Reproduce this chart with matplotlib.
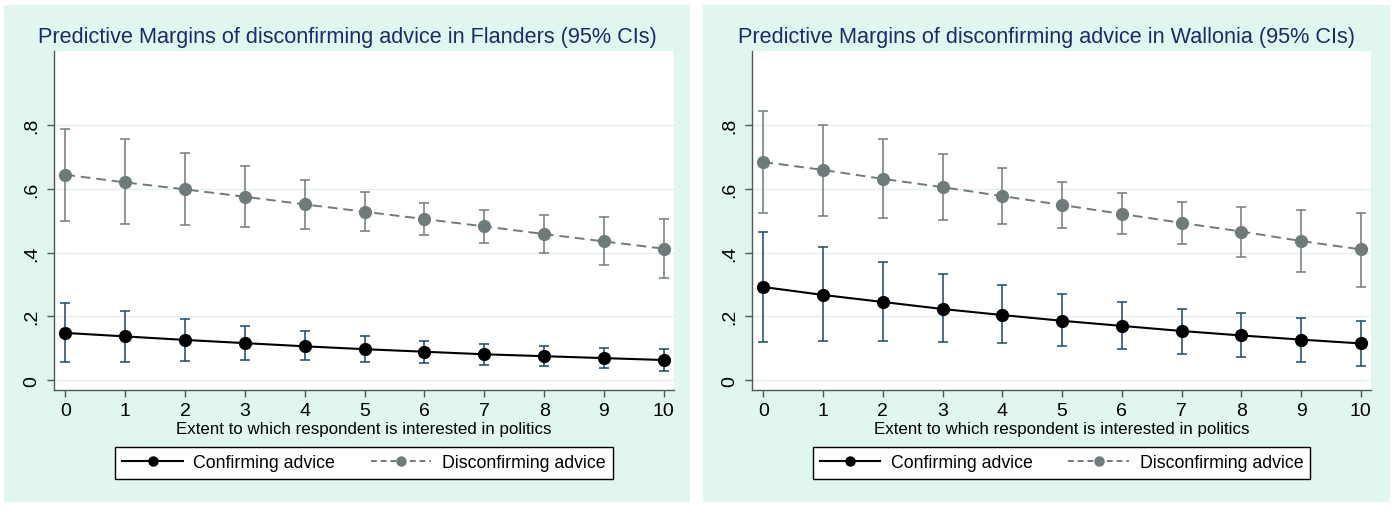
"""Predictive margins of disconfirming advice, Flanders vs Wallonia (Stata-style)."""

import matplotlib
matplotlib.use("Agg")
import matplotlib.pyplot as plt
from matplotlib.lines import Line2D
from matplotlib.patches import Rectangle

plt.rcParams["font.family"] = ["Liberation Sans", "DejaVu Sans"]

INTEREST = list(range(11))
X_LABEL = "Extent to which respondent is interested in politics"
Y_TICKS = [0, 0.2, 0.4, 0.6, 0.8]
Y_TICK_LABELS = ["0", ".2", ".4", ".6", ".8"]

# Flanders
FL_CONF = [0.148, 0.137, 0.126, 0.116, 0.106, 0.097, 0.089, 0.081, 0.075, 0.069, 0.063]
FL_CONF_HI = [0.243, 0.218, 0.193, 0.170, 0.153, 0.137, 0.123, 0.113, 0.106, 0.100, 0.097]
FL_CONF_LO = [0.056, 0.057, 0.060, 0.062, 0.062, 0.058, 0.054, 0.048, 0.043, 0.037, 0.030]
FL_DIS = [0.644, 0.620, 0.598, 0.575, 0.551, 0.528, 0.505, 0.482, 0.458, 0.435, 0.412]
FL_DIS_HI = [0.788, 0.755, 0.713, 0.670, 0.628, 0.590, 0.556, 0.532, 0.518, 0.510, 0.505]
FL_DIS_LO = [0.500, 0.490, 0.487, 0.480, 0.475, 0.467, 0.455, 0.430, 0.400, 0.360, 0.320]

# Wallonia
WA_CONF = [0.292, 0.267, 0.245, 0.223, 0.204, 0.186, 0.170, 0.154, 0.140, 0.127, 0.115]
WA_CONF_HI = [0.463, 0.418, 0.371, 0.332, 0.299, 0.270, 0.245, 0.223, 0.209, 0.196, 0.185]
WA_CONF_LO = [0.121, 0.123, 0.123, 0.119, 0.115, 0.106, 0.097, 0.083, 0.071, 0.056, 0.044]
WA_DIS = [0.684, 0.659, 0.631, 0.605, 0.577, 0.549, 0.521, 0.493, 0.466, 0.436, 0.410]
WA_DIS_HI = [0.843, 0.801, 0.755, 0.710, 0.664, 0.621, 0.586, 0.560, 0.543, 0.533, 0.525]
WA_DIS_LO = [0.524, 0.516, 0.507, 0.501, 0.491, 0.478, 0.459, 0.428, 0.385, 0.339, 0.291]

PANELS = [
    ("Flanders", FL_CONF, FL_CONF_LO, FL_CONF_HI, FL_DIS, FL_DIS_LO, FL_DIS_HI),
    ("Wallonia", WA_CONF, WA_CONF_LO, WA_CONF_HI, WA_DIS, WA_DIS_LO, WA_DIS_HI),
]

BG = "#e0f6ef"
NAVY = "#1a476f"
GREY = "#6f7a7a"
TITLE_C = "#1c2a6b"
AXIS_C = "#4a5a5a"

W, H = 1394, 510
fig = plt.figure(figsize=(W / 100, H / 100), dpi=100)
fig.patch.set_facecolor("white")

panel_px = [(4, 690), (703, 1390)]
axes_px = [(54, 674), (752, 1371)]

# panel backgrounds (pixel boxes -> figure fraction)
for x0, x1 in panel_px:
    fig.patches.append(Rectangle((x0 / W, 1 - 503 / H), (x1 - x0) / W, (503 - 6) / H,
                                 transform=fig.transFigure, facecolor=BG,
                                 edgecolor="none", zorder=-10))

for (region, conf, clo, chi, dis, dlo, dhi), (px0, px1), (bx0, bx1) in zip(PANELS, axes_px, panel_px):
    ax = fig.add_axes([px0 / W, 1 - 391 / H, (px1 - px0) / W, (391 - 52) / H])
    ax.set_facecolor("white")

    ax.errorbar(INTEREST, dis, yerr=[[d - l for d, l in zip(dis, dlo)],
                                     [h - d for d, h in zip(dis, dhi)]],
                fmt="none", ecolor=GREY, elinewidth=1.1, capsize=3.3, capthick=1.1, zorder=2)
    ax.plot(INTEREST, dis, color=GREY, ls=(0, (5, 3)), lw=1.4, marker="o", ms=8.5,
            mfc=GREY, mec=GREY, zorder=3)
    ax.errorbar(INTEREST, conf, yerr=[[c - l for c, l in zip(conf, clo)],
                                      [h - c for c, h in zip(conf, chi)]],
                fmt="none", ecolor=NAVY, elinewidth=1.1, capsize=3.3, capthick=1.1, zorder=4)
    ax.plot(INTEREST, conf, color="black", lw=1.5, marker="o", ms=8.5, zorder=5)

    ax.set_xlim(-0.19, 10.17)
    ax.set_ylim(-0.031, 1.032)
    ax.set_xticks(INTEREST)
    ax.set_yticks(Y_TICKS, Y_TICK_LABELS, rotation=90, va="center")
    ax.tick_params(axis="both", colors=AXIS_C, labelcolor="black", labelsize=14,
                   length=5, width=1, direction="out")
    ax.tick_params(axis="y", pad=5)
    ax.tick_params(axis="x", pad=4)
    ax.grid(axis="y", color="#e6efee", lw=1)
    ax.set_axisbelow(True)
    for side in ("top", "right"):
        ax.spines[side].set_visible(False)
    for side in ("left", "bottom"):
        ax.spines[side].set_color(AXIS_C)
        ax.spines[side].set_linewidth(1)

    ax.set_xlabel(X_LABEL, fontsize=12.2, labelpad=1)
    # Stata centres the title on the whole panel, not on the plot region
    fig.text((bx0 + bx1) / 2 / W, 1 - 37 / H,
             f"Predictive Margins of disconfirming advice in {region} (95% CIs)",
             fontsize=15.6, color=TITLE_C, ha="center", va="center")

    handles = [
        Line2D([], [], color="black", lw=1.5, marker="o", ms=6.5),
        Line2D([], [], color=GREY, lw=1.4, ls=(0, (3, 2)), marker="o", ms=6.5),
    ]
    cx = (px0 + px1) / 2 / W
    fig.legend(handles, ["Confirming advice", "Disconfirming advice"],
               loc="center", bbox_to_anchor=(cx, 1 - 464 / H), ncol=2,
               fontsize=12.8, frameon=True, fancybox=False, edgecolor="black",
               facecolor="white", framealpha=1, handlelength=3.4, numpoints=1,
               columnspacing=2.0, borderpad=0.4, handletextpad=0.6)

fig.savefig("out.png", dpi=100)
